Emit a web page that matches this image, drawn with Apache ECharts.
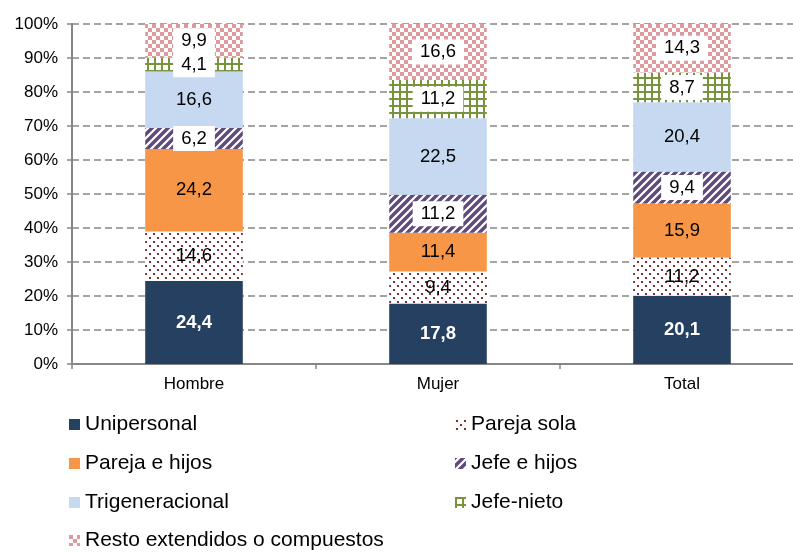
<!DOCTYPE html>
<html>
<head>
<meta charset="utf-8">
<script src="https://cdn.jsdelivr.net/npm/echarts@6/dist/echarts.min.js"></script>
<style>
  html, body { margin: 0; padding: 0; background: #fff; overflow: hidden; }
  #chart { width: 812px; height: 552px; }
</style>
</head>
<body>
<div id="chart"></div>
<script>
// Household types by sex of head (percent, stacked to 100%)
const categories = ['Hombre', 'Mujer', 'Total'];
const unipersonal = [24.4, 17.8, 20.1];
const parejaSola = [14.6, 9.4, 11.2];
const parejaHijos = [24.2, 11.4, 15.9];
const jefeHijos = [6.2, 11.2, 9.4];
const trigeneracional = [16.6, 22.5, 20.4];
const jefeNieto = [4.1, 11.2, 8.7];
const resto = [9.9, 16.6, 14.3];
const yTicks = [0, 10, 20, 30, 40, 50, 60, 70, 80, 90, 100];

const FONT = 'Liberation Sans, Arial, sans-serif';

// Small canvas tiles used as fill patterns
function tile(w, h, draw) {
  const c = document.createElement('canvas');
  c.width = w; c.height = h;
  const ctx = c.getContext('2d');
  ctx.fillStyle = '#ffffff';
  ctx.fillRect(0, 0, w, h);
  draw(ctx);
  return { image: c, repeat: 'repeat' };
}

const dots = tile(8, 8, ctx => {
  ctx.fillStyle = '#7e2e2e';
  ctx.fillRect(1, 1, 2, 2);
  ctx.fillRect(5, 5, 2, 2);
});

const stripes = tile(8, 8, ctx => {
  ctx.strokeStyle = '#5f4a7c';
  ctx.lineWidth = 3.4;
  ctx.beginPath();
  ctx.moveTo(-2, 10); ctx.lineTo(10, -2);
  ctx.moveTo(-6, 6); ctx.lineTo(6, -6);
  ctx.moveTo(2, 14); ctx.lineTo(14, 2);
  ctx.stroke();
});

const grid = tile(7, 7, ctx => {
  ctx.fillStyle = '#77933c';
  ctx.fillRect(0, 0, 2, 7);
  ctx.fillRect(0, 0, 7, 2);
});

const checker = tile(8, 8, ctx => {
  ctx.fillStyle = '#dc9a9c';
  ctx.fillRect(0, 0, 4, 4);
  ctx.fillRect(4, 4, 4, 4);
});

const fmt = p => String(p.value).replace('.', ',');

function labelPlain(color, bold) {
  return {
    show: true, position: 'inside', formatter: fmt,
    color: color, fontSize: 18.5, fontWeight: bold ? 'bold' : 'normal',
    fontFamily: FONT
  };
}
function labelBoxed() {
  return {
    show: true, position: 'inside', formatter: fmt,
    color: '#000', fontSize: 18.5, fontFamily: FONT,
    backgroundColor: '#ffffff', padding: [3, 8]
  };
}

function bar(name, data, color, label) {
  return {
    name: name, type: 'bar', stack: 'total', data: data,
    barWidth: '40%',
    itemStyle: { color: color },
    label: label,
    emphasis: { disabled: true }
  };
}

const series = [
  bar('Unipersonal', unipersonal, '#254061', labelPlain('#ffffff', true)),
  bar('Pareja sola', parejaSola, dots, labelPlain('#000', false)),
  bar('Pareja e hijos', parejaHijos, '#f79646', labelPlain('#000', false)),
  bar('Jefe e hijos', jefeHijos, stripes, labelBoxed()),
  bar('Trigeneracional', trigeneracional, '#c6d9f1', labelPlain('#000', false)),
  bar('Jefe-nieto', jefeNieto, grid, labelBoxed()),
  bar('Resto extendidos o compuestos', resto, checker, labelBoxed())
];

const legendText = { fontSize: 21, color: '#000', fontFamily: FONT };
function legendBlock(left, top, names) {
  return {
    orient: 'vertical', left: left, top: top, padding: 0,
    icon: 'rect', itemWidth: 11, itemHeight: 11, itemGap: 18,
    textStyle: legendText, data: names
  };
}

const chart = echarts.init(document.getElementById('chart'), null, { renderer: 'canvas' });
chart.setOption({
  animation: false,
  grid: { left: 72, top: 24, right: 8, bottom: 188, outerBoundsMode: 'none' },
  xAxis: {
    type: 'category', data: categories,
    axisLine: { lineStyle: { color: '#868686', width: 2 } },
    axisTick: { show: true, length: 5, lineStyle: { color: '#868686', width: 1.5 } },
    axisLabel: { color: '#000', fontSize: 17, margin: 12, fontFamily: FONT }
  },
  yAxis: {
    type: 'value', min: yTicks[0], max: yTicks[yTicks.length - 1], interval: 10,
    axisLine: { show: true, lineStyle: { color: '#868686', width: 2 } },
    axisTick: { show: true, length: 5, lineStyle: { color: '#868686', width: 1.5 } },
    axisLabel: { color: '#000', fontSize: 17, margin: 14, formatter: '{value}%', fontFamily: FONT },
    splitLine: { show: true, lineStyle: { color: '#878787', width: 1.5, type: [7, 4] } }
  },
  legend: [
    legendBlock(69, 414, ['Unipersonal', 'Pareja e hijos', 'Trigeneracional']),
    legendBlock(69, 530, ['Resto extendidos o compuestos']),
    legendBlock(455, 414, ['Pareja sola', 'Jefe e hijos', 'Jefe-nieto'])
  ],
  series: series
});
</script>
</body>
</html>
